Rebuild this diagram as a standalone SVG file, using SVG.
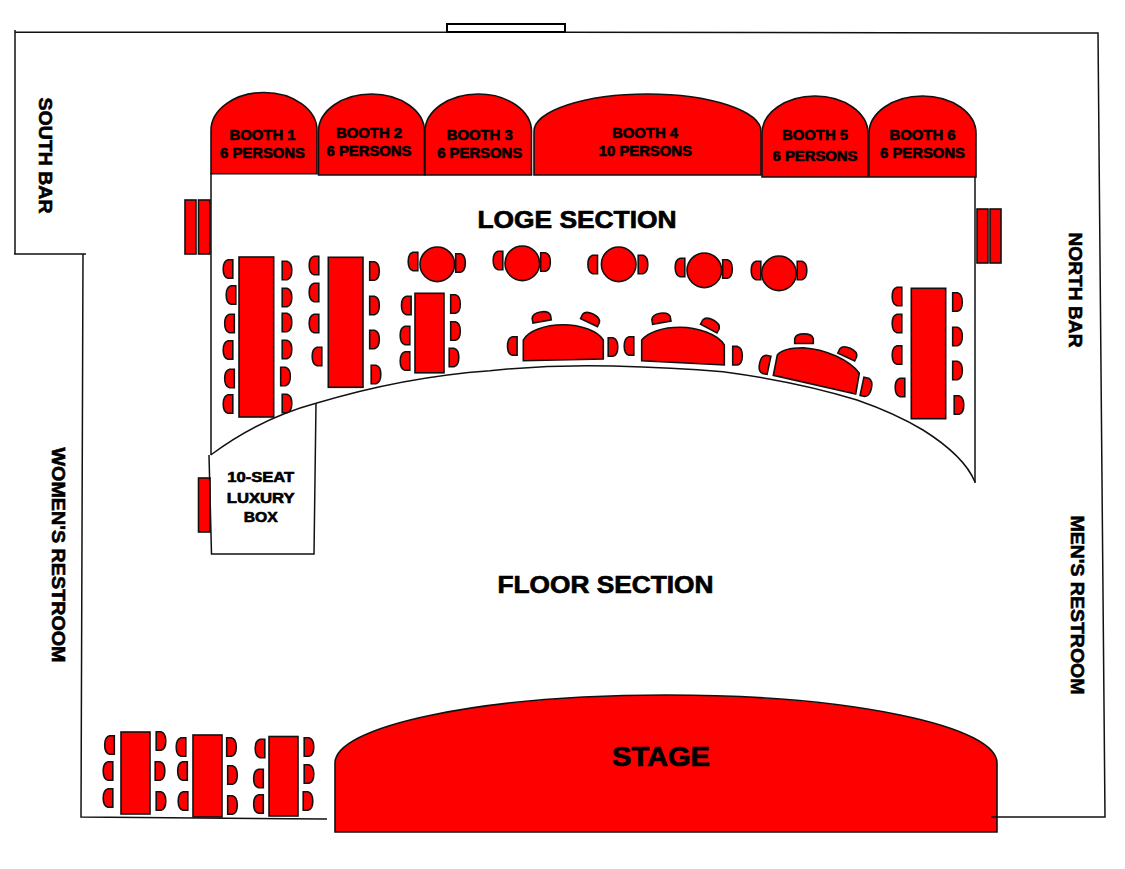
<svg xmlns="http://www.w3.org/2000/svg" width="1125" height="869" viewBox="0 0 1125 869">
<style>
.f{fill:#f00;stroke:#111;stroke-width:1.6}
.l{fill:none;stroke:#111;stroke-width:1.5}
text{font-family:"Liberation Sans",Arial,sans-serif;font-weight:700;fill:#000;text-anchor:middle;stroke:#000}
.b{font-size:14px;stroke-width:.6px}
.s{font-size:24.5px;stroke-width:.7px}
.v{font-size:18.500px;stroke-width:.6px}
</style>
<defs>
<path id="c" class="f" d="M4.800-9.300H0Q-4.800-8-4.800 0T0 9.300H4.800Z"/>
<g id="r"><use href="#c" transform="scale(-1 1)"/></g>
</defs>
<rect width="1125" height="869" fill="#fff"/>
<g id="window"><rect x="447" y="24" width="118" height="8" fill="#fff" stroke="#000" stroke-width="2"/></g>
<g id="booth1"><path class="f" d="M211 173.700V130.500A53 38 0 0 1 317 130.500V173.700Z"/><text class="b" x="262.500" y="140" textLength="66" lengthAdjust="spacingAndGlyphs">BOOTH 1</text><text class="b" x="262.500" y="158" textLength="85" lengthAdjust="spacingAndGlyphs">6 PERSONS</text></g>
<g id="booth2"><path class="f" d="M318.500 175V131.500A53 37.500 0 0 1 424.500 131.500V175Z"/><text class="b" x="369" y="138.300" textLength="66" lengthAdjust="spacingAndGlyphs">BOOTH 2</text><text class="b" x="369" y="156.300" textLength="85" lengthAdjust="spacingAndGlyphs">6 PERSONS</text></g>
<g id="booth3"><path class="f" d="M425 175V131.500A53.250 37.500 0 0 1 531.500 131.500V175Z"/><text class="b" x="479.700" y="140" textLength="66" lengthAdjust="spacingAndGlyphs">BOOTH 3</text><text class="b" x="479.700" y="158" textLength="85" lengthAdjust="spacingAndGlyphs">6 PERSONS</text></g>
<g id="booth4"><path class="f" d="M534 175V131.500A113.500 37.500 0 0 1 761 131.500V175Z"/><text class="b" x="645" y="138" textLength="66" lengthAdjust="spacingAndGlyphs">BOOTH 4</text><text class="b" x="645.300" y="156" textLength="93" lengthAdjust="spacingAndGlyphs">10 PERSONS</text></g>
<g id="booth5"><path class="f" d="M762 177V133.500A53 37.500 0 0 1 868 133.500V177Z"/><text class="b" x="815" y="140" textLength="66" lengthAdjust="spacingAndGlyphs">BOOTH 5</text><text class="b" x="815" y="161" textLength="85" lengthAdjust="spacingAndGlyphs">6 PERSONS</text></g>
<g id="booth6"><path class="f" d="M869 177V133.500A53.500 37.500 0 0 1 976 133.500V177Z"/><text class="b" x="922.500" y="140" textLength="66" lengthAdjust="spacingAndGlyphs">BOOTH 6</text><text class="b" x="922.500" y="158" textLength="85" lengthAdjust="spacingAndGlyphs">6 PERSONS</text></g>
<g id="bars">
<rect class="f" x="185" y="200" width="11" height="54"/><rect class="f" x="198.500" y="200" width="11.500" height="54"/>
<rect class="f" x="977" y="209" width="11" height="54"/><rect class="f" x="990" y="209" width="11" height="54"/>
<rect class="f" x="198.500" y="478" width="11.500" height="54"/>
</g>
<g id="table1"><rect class="f" x="239" y="257" width="34.700" height="160"/>
<use href="#c" x="228" y="269"/><use href="#c" x="231" y="295"/><use href="#c" x="229.500" y="323.500"/><use href="#c" x="228" y="350"/><use href="#c" x="229.500" y="378.500"/><use href="#c" x="228" y="404"/>
<use href="#r" x="287" y="270.500"/><use href="#r" x="287" y="297.500"/><use href="#r" x="287" y="322.500"/><use href="#r" x="287" y="349.500"/><use href="#r" x="285.500" y="376.500"/><use href="#r" x="287" y="403.500"/></g>
<g id="table2"><rect class="f" x="328.300" y="257.300" width="34.700" height="130"/>
<use href="#c" x="314" y="265.500"/><use href="#c" x="314" y="292.500"/><use href="#c" x="314" y="323.500"/><use href="#c" x="317" y="356.500"/>
<use href="#r" x="374.500" y="271"/><use href="#r" x="374.500" y="305.500"/><use href="#r" x="374.500" y="339.500"/><use href="#r" x="376" y="374.500"/></g>
<g id="table3"><rect class="f" x="415" y="293.300" width="29" height="79.500"/>
<use href="#c" x="406.300" y="305.500"/><use href="#c" x="405" y="335.500"/><use href="#c" x="405" y="361"/>
<use href="#r" x="455.500" y="304"/><use href="#r" x="455.500" y="331"/><use href="#r" x="454" y="357.500"/></g>
<g id="table4"><rect class="f" x="911.300" y="288.300" width="34.400" height="130.400"/>
<use href="#c" x="897" y="296.500"/><use href="#c" x="897" y="323.500"/><use href="#c" x="897" y="355"/><use href="#c" x="900" y="387.500"/>
<use href="#r" x="957.500" y="302"/><use href="#r" x="957.500" y="336.500"/><use href="#r" x="957.500" y="370.500"/><use href="#r" x="959" y="405"/></g>
<g id="round1"><circle class="f" cx="437.300" cy="264.300" r="17.300"/><use href="#c" x="413" y="261.500"/><use href="#r" x="460.500" y="263"/></g>
<g id="round2"><circle class="f" cx="522.300" cy="263.300" r="17.300"/><use href="#c" x="498" y="260.500"/><use href="#r" x="545.500" y="262"/></g>
<g id="round3"><circle class="f" cx="618.700" cy="264.300" r="17.300"/><use href="#c" x="592.700" y="264.500"/><use href="#r" x="643" y="264.500"/></g>
<g id="round4"><circle class="f" cx="704.300" cy="270.300" r="17.300"/><use href="#c" x="680" y="267.500"/><use href="#r" x="727.500" y="269"/></g>
<g id="round5"><circle class="f" cx="779" cy="273.300" r="17.300"/><use href="#c" x="756" y="270.500"/><use href="#r" x="802" y="270.500"/></g>
<g id="half1"><path class="f" d="M523.300 360.700V340C528 331 545 324.700 563 324.700S598 331 603.300 340V359Z"/>
<use href="#c" x="512.300" y="346"/><use href="#r" x="613" y="347"/>
<use href="#c" transform="translate(541.300 316.700) rotate(80)"/><use href="#c" transform="translate(591 318.300) rotate(115)"/></g>
<g id="half2"><path class="f" d="M641.700 360.700V340C648 332 663 327.300 680 327.300S718 334 724.300 345V365Z"/>
<use href="#c" x="629" y="346"/><use href="#r" x="737.500" y="355.700"/>
<use href="#c" transform="translate(661 318) rotate(80)"/><use href="#c" transform="translate(711 324.300) rotate(118)"/></g>
<g id="half3"><path class="f" d="M773.300 375.300L777.300 355C782 349 792 347.700 803.300 347.700C825 349 850 360 859.300 373.300L855.700 394Z"/>
<use href="#c" transform="translate(764.300 364.300) rotate(12)"/><use href="#c" transform="translate(866.700 387.300) rotate(192)"/>
<use href="#c" transform="translate(804 338.700) rotate(90)"/><use href="#c" transform="translate(848.300 352.700) rotate(115)"/></g>
<g id="luxury-box"><path class="l" d="M209 455L211.500 554H314L316 403.300"/>
<text class="b" x="260.700" y="482" textLength="67" lengthAdjust="spacingAndGlyphs">10-SEAT</text><text class="b" x="260.700" y="503" textLength="68" lengthAdjust="spacingAndGlyphs">LUXURY</text><text class="b" x="260.700" y="522" textLength="34" lengthAdjust="spacingAndGlyphs">BOX</text></g>
<g id="bottom-table1"><rect class="f" x="121" y="732" width="29" height="82"/>
<use href="#c" x="109.500" y="745"/><use href="#c" x="108" y="771"/><use href="#c" x="108" y="798"/>
<use href="#r" x="161" y="741"/><use href="#r" x="160" y="771"/><use href="#r" x="161" y="801"/></g>
<g id="bottom-table2"><rect class="f" x="193" y="735" width="29" height="82"/>
<use href="#c" x="181" y="747"/><use href="#c" x="182.500" y="771"/><use href="#c" x="183" y="801"/>
<use href="#r" x="231.500" y="747"/><use href="#r" x="232.500" y="775"/><use href="#r" x="232.500" y="805"/></g>
<g id="bottom-table3"><rect class="f" x="269" y="736.500" width="29" height="79.500"/>
<use href="#c" x="260" y="748.500"/><use href="#c" x="258.500" y="778.500"/><use href="#c" x="258.500" y="804"/>
<use href="#r" x="309" y="747"/><use href="#r" x="309" y="774"/><use href="#r" x="308" y="801"/></g>
<g id="stage"><path class="f" d="M335 832V763A331 68 0 0 1 997 763V832Z"/><text class="s" x="661" y="766" style="font-size:27px" textLength="98" lengthAdjust="spacingAndGlyphs">STAGE</text></g>
<g id="connectors">
<path class="l" d="M447 32.300H15M15 30V254M14 254H86M83 254L81 817L327 819"/>
<path class="l" d="M565 32.300L1098 33L1105 817H991"/>
<path class="l" d="M211 173V455M975 177V483"/>
<path class="l" d="M210.700 455C243 431 280 413 316 403.300C370 387 430 375 490 370.700C535 366 575 365 613 366C650 367 690 369 723 371.700C770 378 815 387 857 400C880 408 903 418 923 430C950 447 968 465 975 482"/>
</g>
<g id="labels">
<text class="s" x="577" y="228" textLength="199" lengthAdjust="spacingAndGlyphs">LOGE SECTION</text>
<text class="s" x="605.500" y="593" textLength="216" lengthAdjust="spacingAndGlyphs">FLOOR SECTION</text>
<text class="v" transform="translate(38.500 155.500) rotate(90)" textLength="116" lengthAdjust="spacingAndGlyphs">SOUTH BAR</text>
<text class="v" transform="translate(1068.500 290) rotate(90)" textLength="115" lengthAdjust="spacingAndGlyphs">NORTH BAR</text>
<text class="v" transform="translate(51.500 555) rotate(90)" textLength="215" lengthAdjust="spacingAndGlyphs">WOMEN'S RESTROOM</text>
<text class="v" transform="translate(1071 605) rotate(90)" textLength="179" lengthAdjust="spacingAndGlyphs">MEN'S RESTROOM</text>
</g>
</svg>
